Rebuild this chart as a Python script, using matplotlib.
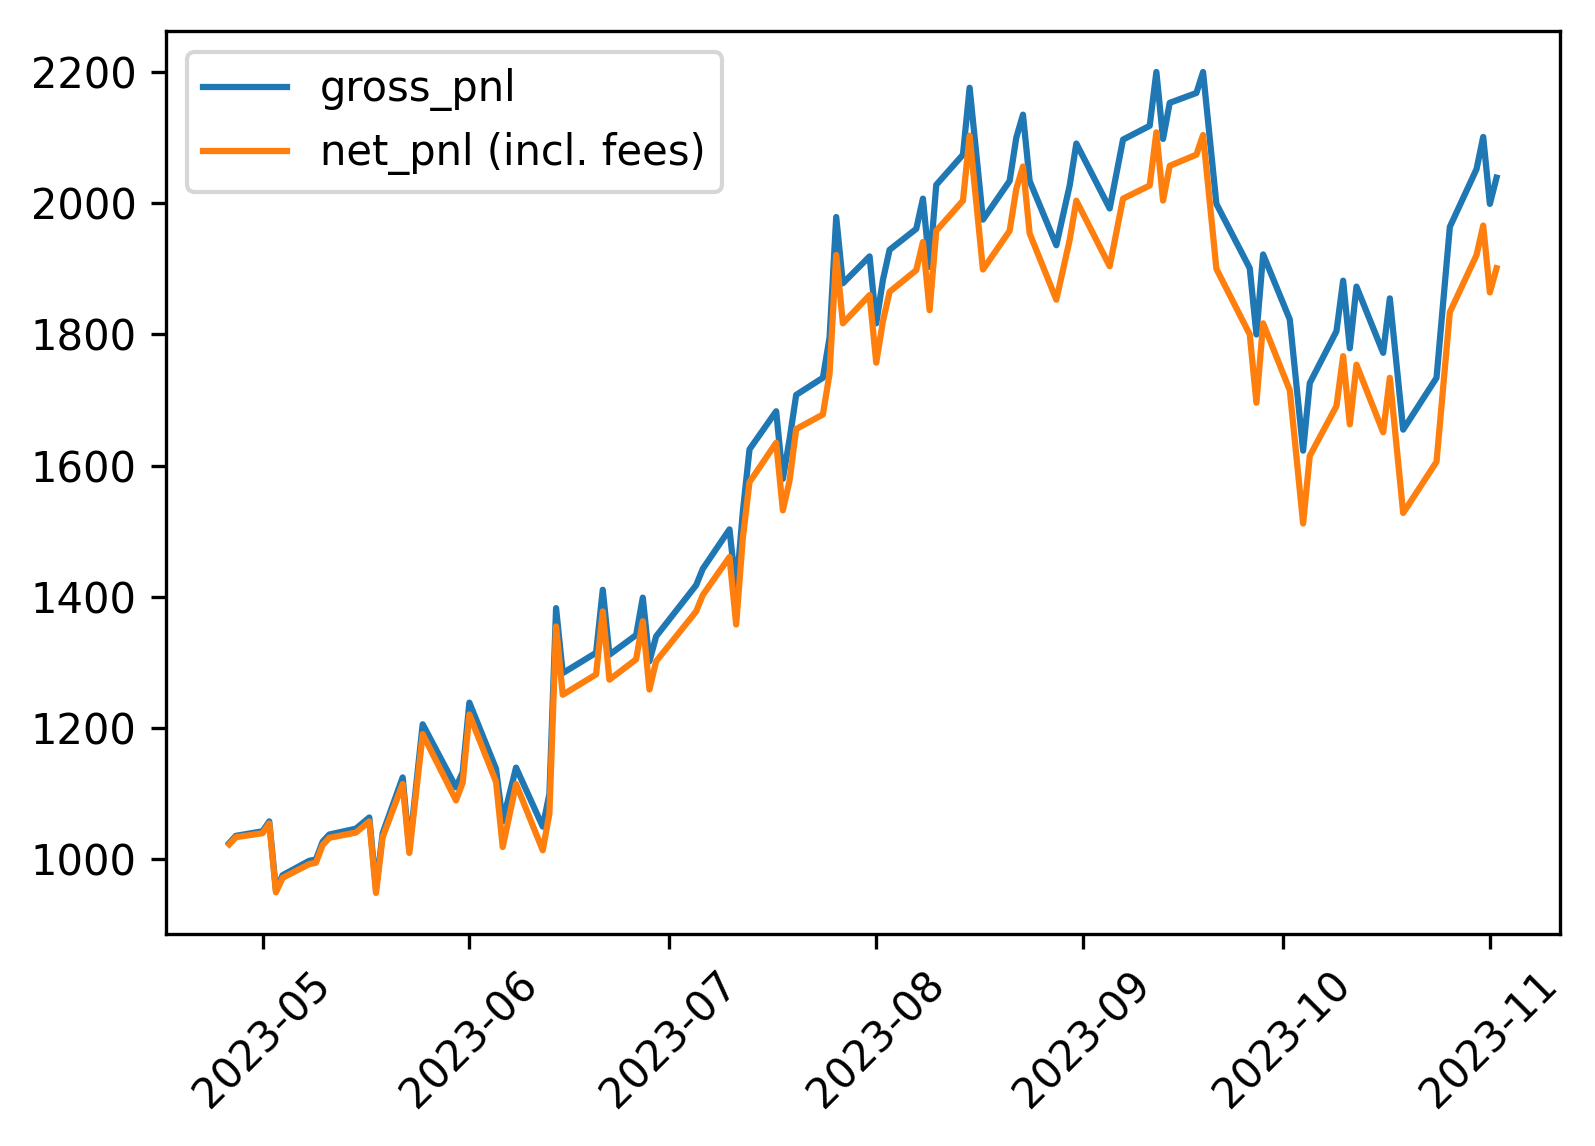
import numpy as np
import pandas as pd
import matplotlib
matplotlib.use("Agg")
import matplotlib.pyplot as plt

# dates of the trades and the running pnl
dates = ["2023-04-26", "2023-04-27", "2023-05-01", "2023-05-02", "2023-05-03", "2023-05-04",
         "2023-05-08", "2023-05-09", "2023-05-10", "2023-05-11", "2023-05-15", "2023-05-17",
         "2023-05-18", "2023-05-19", "2023-05-22", "2023-05-23", "2023-05-25", "2023-05-30",
         "2023-05-31", "2023-06-01", "2023-06-05", "2023-06-06", "2023-06-08", "2023-06-12",
         "2023-06-13", "2023-06-14", "2023-06-15", "2023-06-20", "2023-06-21", "2023-06-22",
         "2023-06-26", "2023-06-27", "2023-06-28", "2023-06-29", "2023-07-05", "2023-07-06",
         "2023-07-10", "2023-07-11", "2023-07-12", "2023-07-13", "2023-07-17", "2023-07-18",
         "2023-07-19", "2023-07-20", "2023-07-24", "2023-07-25", "2023-07-26", "2023-07-27",
         "2023-07-31", "2023-08-01", "2023-08-02", "2023-08-03", "2023-08-07", "2023-08-08",
         "2023-08-09", "2023-08-10", "2023-08-14", "2023-08-15", "2023-08-17", "2023-08-21",
         "2023-08-22", "2023-08-23", "2023-08-24", "2023-08-28", "2023-08-30", "2023-08-31",
         "2023-09-05", "2023-09-07", "2023-09-11", "2023-09-12", "2023-09-13", "2023-09-14",
         "2023-09-18", "2023-09-19", "2023-09-21", "2023-09-26", "2023-09-27", "2023-09-28",
         "2023-10-02", "2023-10-04", "2023-10-05", "2023-10-09", "2023-10-10", "2023-10-11",
         "2023-10-12", "2023-10-16", "2023-10-17", "2023-10-19", "2023-10-24", "2023-10-26",
         "2023-10-30", "2023-10-31", "2023-11-01", "2023-11-02"]

gross_pnl = [1025, 1036, 1043, 1058, 953, 976,
             998, 1000, 1027, 1038, 1047, 1064,
             955, 1040, 1125, 1015, 1206, 1110,
             1133, 1239, 1138, 1058, 1140, 1050,
             1100, 1383, 1284, 1315, 1411, 1312,
             1342, 1399, 1302, 1340, 1418, 1443,
             1503, 1410, 1530, 1625, 1683, 1580,
             1640, 1708, 1734, 1795, 1979, 1878,
             1919, 1817, 1883, 1929, 1961, 2007,
             1903, 2028, 2074, 2176, 1975, 2034,
             2100, 2135, 2034, 1936, 2027, 2091,
             1992, 2097, 2118, 2200, 2098, 2153,
             2168, 2200, 1999, 1901, 1800, 1922,
             1823, 1623, 1726, 1805, 1882, 1779,
             1873, 1772, 1855, 1655, 1734, 1964,
             2052, 2101, 1999, 2039]

net_pnl = [1023, 1034, 1040, 1055, 950, 972,
           993, 995, 1022, 1033, 1041, 1058,
           949, 1034, 1115, 1010, 1191, 1090,
           1117, 1221, 1118, 1019, 1115, 1014,
           1070, 1355, 1251, 1282, 1378, 1274,
           1305, 1363, 1259, 1302, 1378, 1403,
           1461, 1358, 1490, 1575, 1635, 1532,
           1577, 1656, 1678, 1740, 1921, 1817,
           1860, 1757, 1820, 1865, 1898, 1941,
           1837, 1958, 2004, 2103, 1899, 1958,
           2022, 2056, 1954, 1853, 1944, 2004,
           1904, 2007, 2027, 2108, 2004, 2057,
           2074, 2104, 1900, 1800, 1696, 1817,
           1715, 1512, 1615, 1691, 1767, 1663,
           1754, 1651, 1734, 1528, 1606, 1834,
           1921, 1966, 1864, 1901]

df = pd.DataFrame({"gross_pnl": gross_pnl, "net_pnl": net_pnl},
                  index=pd.to_datetime(dates))

plt.rcParams["font.size"] = 10

fig = plt.figure(figsize=(1595 / 300, 1146 / 300), dpi=300)
ax = fig.add_axes([0.104, 0.185, 0.874, 0.788])

ax.plot(df.index, df["gross_pnl"], label="gross_pnl")
ax.plot(df.index, df["net_pnl"], label="net_pnl (incl. fees)")
ax.legend(loc="upper left")
plt.setp(ax.get_xticklabels(), rotation=45)

fig.savefig("out.png", dpi=300)
